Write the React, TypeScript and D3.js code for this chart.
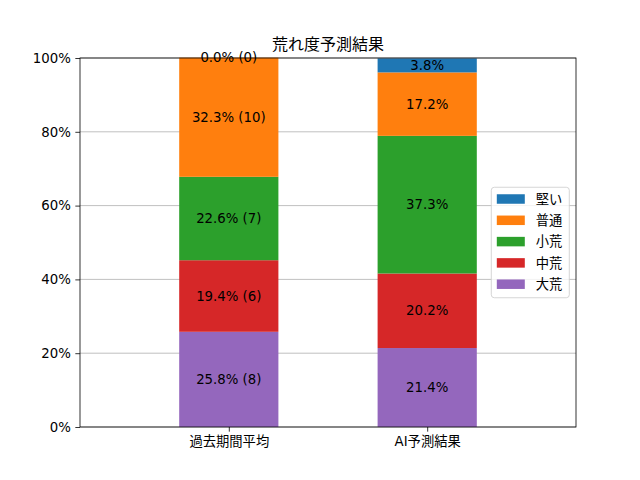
import { useEffect, useRef } from 'react';
import * as d3 from 'd3';

// categories on the x axis
const categories = ['過去期間平均', 'AI予測結果'];
// stack order, bottom to top
const levels = ['大荒', '中荒', '小荒', '普通', '堅い'];
const colors = ['#9467bd', '#d62728', '#2ca02c', '#ff7f0e', '#1f77b4'];
// percentages per level (same order as levels)
const pastPct = [25.8, 19.4, 22.6, 32.3, 0.0];
const pastCount = [8, 6, 7, 10, 0];
const aiPct = [21.4, 20.2, 37.3, 17.2, 3.8];
const yTicks = [0, 20, 40, 60, 80, 100];

const FONT = '"DejaVu Sans", "Noto Sans CJK JP", sans-serif';

export default function App() {
  const svgRef = useRef<SVGSVGElement>(null);
  const width = 640;
  const height = 480;
  const margin = { top: 58, right: 64, bottom: 53, left: 80 };
  const innerWidth = width - margin.left - margin.right;
  const innerHeight = height - margin.top - margin.bottom;

  useEffect(() => {
    if (!svgRef.current) return;
    const svg = d3.select(svgRef.current);
    svg.selectAll('*').remove();

    const rows = categories.map((c, i) => {
      const row: Record<string, any> = { category: c };
      levels.forEach((l, j) => {
        row[l] = i === 0 ? pastPct[j] : aiPct[j];
      });
      return row;
    });

    const x = d3.scalePoint<string>()
      .domain(categories)
      .range([0, innerWidth])
      .padding(0.75);
    const barWidth = x.step() * 0.5;

    const y = d3.scaleLinear().domain([0, 100]).range([innerHeight, 0]);

    const stacked = d3.stack<any>().keys(levels)(rows);

    const g = svg.append('g')
      .attr('transform', `translate(${margin.left},${margin.top})`);

    // Grid lines (behind bars)
    g.append('g')
      .selectAll('line')
      .data(yTicks)
      .join('line')
      .attr('x1', 0)
      .attr('x2', innerWidth)
      .attr('y1', d => y(d))
      .attr('y2', d => y(d))
      .attr('stroke', '#b0b0b0')
      .attr('stroke-width', 0.8);

    // Bars
    stacked.forEach((layer, j) => {
      g.append('g')
        .attr('fill', colors[j])
        .selectAll('rect')
        .data(layer)
        .join('rect')
        .attr('x', d => (x(d.data.category) ?? 0) - barWidth / 2)
        .attr('width', barWidth)
        .attr('y', d => y(d[1]))
        .attr('height', d => y(d[0]) - y(d[1]));
    });

    // Segment labels
    stacked.forEach((layer, j) => {
      g.append('g')
        .selectAll('text')
        .data(layer)
        .join('text')
        .attr('x', d => x(d.data.category) ?? 0)
        .attr('y', d => y((d[0] + d[1]) / 2))
        .attr('text-anchor', 'middle')
        .attr('dominant-baseline', 'central')
        .style('font-family', FONT)
        .style('font-size', '13.3px')
        .style('fill', '#000')
        .text((d, i) => i === 0
          ? `${pastPct[j].toFixed(1)}% (${pastCount[j]})`
          : `${aiPct[j].toFixed(1)}%`);
    });

    // Y axis
    const yAxis = g.append('g')
      .call(d3.axisLeft(y).tickValues(yTicks).tickSize(4.67).tickPadding(4.5).tickFormat(d => `${d}%`));
    yAxis.select('.domain').remove();
    yAxis.selectAll('line').attr('stroke', '#000').attr('stroke-width', 0.8);
    yAxis.selectAll('text')
      .style('font-family', FONT)
      .style('font-size', '13.3px')
      .style('fill', '#000');

    // X axis
    const xAxis = g.append('g')
      .attr('transform', `translate(0,${innerHeight})`)
      .call(d3.axisBottom(x).tickSize(4.67).tickPadding(4.5));
    xAxis.select('.domain').remove();
    xAxis.selectAll('line').attr('stroke', '#000').attr('stroke-width', 0.8);
    xAxis.selectAll('text')
      .style('font-family', FONT)
      .style('font-size', '13.3px')
      .style('fill', '#000');

    // Frame
    g.append('rect')
      .attr('width', innerWidth)
      .attr('height', innerHeight)
      .attr('fill', 'none')
      .attr('stroke', '#000')
      .attr('stroke-width', 0.8);

    // Title
    svg.append('text')
      .attr('x', margin.left + innerWidth / 2)
      .attr('y', margin.top - 8)
      .attr('text-anchor', 'middle')
      .style('font-family', FONT)
      .style('font-size', '16px')
      .style('fill', '#000')
      .text('荒れ度予測結果');

    // Legend (center right, reversed order)
    const legendItems = levels.map((l, j) => ({ label: l, color: colors[j] })).reverse();
    const rowH = 21.3;
    const lw = 78;
    const lh = legendItems.length * rowH + 4;
    const lx = innerWidth - 6.7 - lw;
    const ly = innerHeight / 2 - lh / 2;
    const legend = g.append('g').attr('transform', `translate(${lx},${ly})`);
    legend.append('rect')
      .attr('width', lw)
      .attr('height', lh)
      .attr('rx', 3)
      .attr('fill', '#fff')
      .attr('fill-opacity', 0.8)
      .attr('stroke', '#cccccc')
      .attr('stroke-width', 0.8);
    const items = legend.selectAll('g.item')
      .data(legendItems)
      .join('g')
      .attr('class', 'item')
      .attr('transform', (_, i) => `translate(5.5,${7 + i * rowH})`);
    items.append('rect')
      .attr('width', 28)
      .attr('height', 9.5)
      .attr('fill', d => d.color);
    items.append('text')
      .attr('x', 39)
      .attr('y', 5)
      .attr('dominant-baseline', 'central')
      .style('font-family', FONT)
      .style('font-size', '13.3px')
      .style('fill', '#000')
      .text(d => d.label);
  }, []);

  return (
    <svg
      ref={svgRef}
      width={width}
      height={height}
      viewBox={`0 0 ${width} ${height}`}
      style={{ position: 'absolute', left: 0, top: 0, background: '#fff' }}
    />
  );
}
